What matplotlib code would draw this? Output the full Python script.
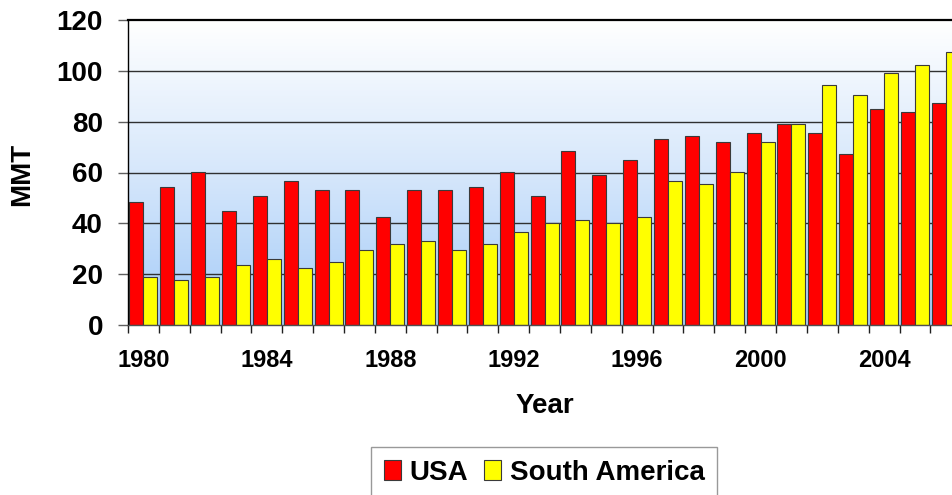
import numpy as np
import matplotlib
matplotlib.use("Agg")
import matplotlib.pyplot as plt
from matplotlib.colors import LinearSegmentedColormap

plt.rcParams['font.family'] = ['Liberation Sans', 'DejaVu Sans']
plt.rcParams['font.weight'] = 'bold'

years = list(range(1980, 2007))
usa = [48.3, 54.2, 60.1, 44.7, 50.6, 56.5, 53.0, 53.0, 42.4, 53.0,
       53.0, 54.2, 60.1, 50.6, 68.3, 58.9, 64.8, 73.1, 74.2, 71.9,
       75.4, 79.0, 75.4, 67.2, 84.9, 83.7, 87.2]
south_america = [18.8, 17.6, 18.8, 23.5, 25.8, 22.3, 24.7, 29.4, 31.7, 32.9,
                 29.4, 31.7, 36.5, 40.0, 41.2, 40.0, 42.4, 56.5, 55.4, 60.1,
                 71.9, 79.0, 94.3, 90.6, 99.0, 102.4, 107.3]
labeled_years = [1980, 1984, 1988, 1992, 1996, 2000, 2004]
y_ticks = [0, 20, 40, 60, 80, 100, 120]

W, H = 952, 495
fig = plt.figure(figsize=(W / 100, H / 100), dpi=100)
n = len(years)
slot_px = 30.86
ax = fig.add_axes([128 / W, 1 - 325 / H, n * slot_px / W, 305 / H])

x = np.arange(n)
bw = 0.4537

# background gradient: white at top to light blue at bottom
grad = LinearSegmentedColormap.from_list('bg', ['#a4cbf8', '#d6e7fb', '#ffffff'])
ax.imshow(np.linspace(0, 1, 256).reshape(-1, 1), aspect='auto', cmap=grad,
          origin='lower', extent=[-0.5, n - 0.5, 0, 120], zorder=0)

for yv in y_ticks[1:-1]:
    ax.axhline(yv, color='#303030', lw=1.0, zorder=1)

ax.bar(x - bw / 2, usa, width=bw, color='#ff0000', edgecolor='#3a3a3a',
       linewidth=0.8, zorder=2, label='USA')
ax.bar(x + bw / 2, south_america, width=bw, color='#ffff00', edgecolor='#3a3a3a',
       linewidth=0.8, zorder=2, label='South America')

ax.set_xlim(-0.5, n - 0.5)
ax.set_ylim(0, 120)

ax.set_yticks(y_ticks)
ax.set_yticklabels([str(v) for v in y_ticks], fontsize=20, fontweight='bold')
ax.tick_params(axis='y', direction='out', length=7, width=1, color='#606060', pad=11)

ax.set_xticks([years.index(y) for y in labeled_years])
ax.set_xticklabels([str(y) for y in labeled_years], fontsize=17, fontweight='bold')
ax.tick_params(axis='x', which='major', length=0, pad=17)
ax.set_xticks(np.arange(n + 1) - 0.5, minor=True)
ax.tick_params(axis='x', which='minor', direction='out', length=6, width=1, color='#202020')

ax.spines['top'].set_linewidth(1.6)
ax.spines['top'].set_color('black')
ax.spines['left'].set_linewidth(1.0)
ax.spines['left'].set_color('black')
ax.spines['bottom'].set_linewidth(1.0)
ax.spines['bottom'].set_color('#505050')
ax.spines['right'].set_visible(False)

ax.set_xlabel('Year', fontsize=20, fontweight='bold')
ax.xaxis.set_label_coords(0.5, -0.2656)
ax.xaxis.label.set_va('center')
ax.set_ylabel('MMT', fontsize=20, fontweight='bold')
ax.yaxis.set_label_coords(-0.1266, 0.493)
ax.yaxis.label.set_va('center')

leg = fig.legend(loc='upper center', bbox_to_anchor=(544 / W, 1 - 447 / H), ncol=2,
                 frameon=True, fancybox=False, handlelength=0.64,
                 handleheight=0.75, handletextpad=0.3, columnspacing=0.55,
                 borderpad=0.45, borderaxespad=0.0,
                 prop={'weight': 'bold', 'size': 20})
leg.get_frame().set_edgecolor('#808080')
leg.get_frame().set_linewidth(1.0)

fig.savefig('out.png', dpi=100)
